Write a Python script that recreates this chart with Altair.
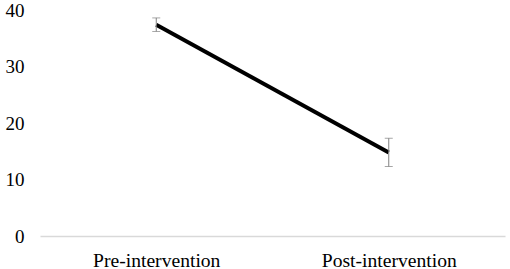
import altair as alt
import pandas as pd

phases = ["Pre-intervention", "Post-intervention"]
means = [37.4, 14.8]
errors = [1.2, 2.5]

df = pd.DataFrame({
    "phase": phases,
    "mean": means,
    "lo": [m - e for m, e in zip(means, errors)],
    "hi": [m + e for m, e in zip(means, errors)],
})

FONT = "Liberation Serif"
FS = 19

xaxis = alt.Axis(labelAngle=0, labelAlign="center", labelBaseline="top", domain=True,
                 domainColor="#d9d9d9", domainWidth=1.5, ticks=False, grid=False,
                 labelFontSize=19.6, labelFont=FONT, labelColor="#000000", labelPadding=15)
yaxis = alt.Axis(values=[0, 10, 20, 30, 40], domain=False, ticks=False, grid=False,
                 labelFontSize=FS, labelFont=FONT, labelColor="#000000", labelPadding=16,
                 labelAlign="right", labelBaseline="middle")

xs = alt.Scale(type="point", padding=0.5)
ys = alt.Scale(domain=[0, 40], nice=False)

base = alt.Chart(df)

def X():
    return alt.X("phase:N", sort=phases, title=None, scale=xs, axis=xaxis)

line = base.mark_line(color="#000000", strokeWidth=4).encode(
    x=X(), y=alt.Y("mean:Q", title=None, scale=ys, axis=yaxis))
rule = base.mark_rule(color="#808080", strokeWidth=1).encode(
    x=X(), y=alt.Y("lo:Q", title=None, scale=ys, axis=yaxis), y2="hi:Q")
cap_lo = base.mark_tick(color="#808080", thickness=1, size=8).encode(
    x=X(), y=alt.Y("lo:Q", title=None, scale=ys, axis=yaxis))
cap_hi = base.mark_tick(color="#808080", thickness=1, size=8).encode(
    x=X(), y=alt.Y("hi:Q", title=None, scale=ys, axis=yaxis))

chart = alt.layer(line, rule, cap_lo, cap_hi).properties(
    width=465, height=226,
    autosize=alt.AutoSizeParams(type="none"),
    padding={"left": 40, "top": 10, "right": 5, "bottom": 33},
    background="#ffffff",
).configure(font=FONT).configure_view(strokeWidth=0, stroke="transparent").configure_axis(
    labelFont=FONT, labelColor="#000000")

chart.save("out.html", embed_options={"renderer": "svg", "actions": False})
